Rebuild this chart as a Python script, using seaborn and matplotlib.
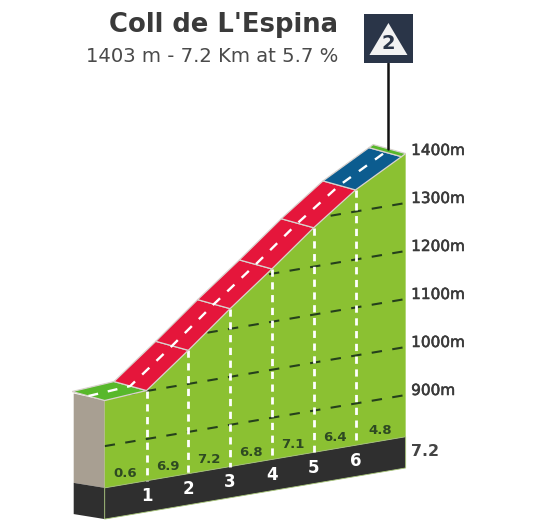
import numpy as np
import matplotlib
matplotlib.use("Agg")
import matplotlib.pyplot as plt
import matplotlib.patheffects as pe
from matplotlib.patches import Polygon
import seaborn as sns

TITLE = "Coll de L'Espina"
SUBTITLE = "1403 m - 7.2 Km at 5.7 %"
CATEGORY = "2"

# profile
road_km = [0, 1, 2, 3, 4, 5, 6, 7.1, 7.2]
road_alt = [995, 1001, 1070, 1142, 1210, 1281, 1345, 1398, 1403]
road_colors = ["#58B82B", "#E5163B", "#E5163B", "#E5163B", "#E5163B", "#E5163B",
               "#0C5C8F", "#58B82B"]
gradient_km = [0.5, 1.5, 2.5, 3.5, 4.5, 5.5, 6.6]
gradients = ["0.6", "6.9", "7.2", "6.8", "7.1", "6.4", "4.8"]
km_marks = [1, 2, 3, 4, 5, 6]
grid_alt = [900, 1000, 1100, 1200, 1300]
label_alt = [900, 1000, 1100, 1200, 1300, 1400]
total_km = 7.2
base_alt = 813
foot_alt = 748


def proj(km, alt, depth=0.0):
    """Oblique projection of (km, altitude, road depth) on the canvas."""
    km, alt = np.asarray(km, float), np.asarray(alt, float)
    x = 104.7 + 41.8 * km - 32.5 * depth
    y = 395 + 7.1 * (total_km - km) - 0.48 * (alt - 900) - 9.0 * depth
    return x, y


def pts(kms, alts, depth=0.0):
    return np.column_stack(proj(kms, alts, depth))


def alt_at(km):
    return np.interp(km, road_km, road_alt)


sns.set_theme(style="white")
fig, ax = plt.subplots(figsize=(5.33, 5.24), dpi=100)
ax.set_position([0, 0, 1, 1])
ax.set_xlim(0, 533)
ax.set_ylim(524, 0)
ax.axis("off")

FONT = "DejaVu Sans"
GREEN = "#8BC132"
DARK = "#2F2F2F"

# left side wall and foot
k0, a0 = road_km[0], road_alt[0]
wall = np.vstack([pts(k0, a0), pts(k0, base_alt), pts(k0, base_alt) + [-31, -5], pts(k0, a0) + [-31, -7]])
ax.add_patch(Polygon(wall, fc="#A89F92", ec="none", zorder=1))
foot = np.vstack([pts(k0, base_alt), pts(k0, foot_alt), pts(k0, foot_alt) + [-31, -5], pts(k0, base_alt) + [-31, -5]])
ax.add_patch(Polygon(foot, fc=DARK, ec="none", zorder=1))

# green front face
terrain = np.vstack([pts(road_km, road_alt), pts(total_km, base_alt), pts(k0, base_alt)])
face = Polygon(terrain, fc=GREEN, ec="none", zorder=2)
ax.add_patch(face)

# dark distance band
band = np.vstack([pts(k0, base_alt), pts(total_km, base_alt), pts(total_km, foot_alt), pts(k0, foot_alt)])
ax.add_patch(Polygon(band, fc=DARK, ec="#A9C77A", lw=0.6, zorder=3))

# altitude lines, clipped by the terrain
for alt in grid_alt:
    xs, ys = proj([0, total_km], [alt, alt])
    sns.lineplot(x=xs, y=ys, ax=ax, color="#25401C", lw=1.5, estimator=None, sort=False,
                 zorder=4, legend=False)
    line = ax.lines[-1]
    line.set_linestyle((0, (5, 5)))
    line.set_clip_path(face)

# white km lines
for km in km_marks:
    xs, ys = proj([km, km], [alt_at(km), base_alt])
    sns.lineplot(x=xs, y=ys, ax=ax, color="white", lw=2, estimator=None, sort=False,
                 zorder=5, legend=False)
    ax.lines[-1].set_linestyle((0, (2.6, 2.0)))

# road surface
for i, col in enumerate(road_colors):
    k = road_km[i:i + 2]
    a = road_alt[i:i + 2]
    poly = np.vstack([pts(k, a), pts(k[::-1], a[::-1], 1.0)])
    ax.add_patch(Polygon(poly, fc=col, ec="#D9D2CE", lw=0.9, zorder=6))

# centre line of the road
xs, ys = proj(road_km, road_alt, 0.5)
sns.lineplot(x=xs, y=ys, ax=ax, color="white", lw=1.7, estimator=None, sort=False,
             zorder=7, legend=False)
ax.lines[-1].set_linestyle((0, (4.2, 4.2)))

# gradient values and km numbers
for km, g in zip(gradient_km, gradients):
    x, y = proj(km, base_alt)
    ax.text(x.item(), y.item() - 11, g, ha="center", va="center", fontsize=9.5, fontweight="bold",
            color="#2E4A22", family=FONT, zorder=8)
for km in km_marks:
    x, y = proj(km, (base_alt + foot_alt) / 2)
    ax.text(x.item(), y.item(), str(km), ha="center", va="center", fontsize=12, fontweight="bold",
            color="white", family=FONT, zorder=8)

# right side labels
for alt in label_alt:
    x, y = proj(total_km, alt)
    t = ax.text(x.item() + 5.5, y.item() - 4.5, f"{alt}m", ha="left", va="center", fontsize=11,
                color="#3A3A3A", family=FONT, zorder=8)
    t.set_path_effects([pe.withStroke(linewidth=0.4, foreground="#3A3A3A")])
x, y = proj(total_km, base_alt)
ax.text(x.item() + 5.5, y.item() + 15, f"{total_km}", ha="left", va="center", fontsize=11.4, fontweight="bold",
        color="#444444", family=FONT, zorder=8)

# titles
ax.text(338, 32, TITLE, ha="right", va="baseline", fontsize=18.6, fontweight="bold",
        color="#3A3A3A", family=FONT)
ax.text(338, 62, SUBTITLE, ha="right", va="baseline", fontsize=14.1, color="#4A4A4A", family=FONT)

# summit flag
sx, sy = proj(total_km, road_alt[-1], 0.53)
sx, sy = sx.item(), sy.item()
ax.plot([sx, sx], [63, sy], color="#111111", lw=1.8, zorder=9)
ax.add_patch(Polygon([(sx - 24.5, 14), (sx + 24.5, 14), (sx + 24.5, 63), (sx - 24.5, 63)],
                     fc="#2A3548", ec="none", zorder=9))
ax.add_patch(Polygon([(sx, 23), (sx + 19, 55), (sx - 19, 55)], fc="#F2F2F2", ec="none", zorder=10))
ax.text(sx, 43.5, CATEGORY, ha="center", va="center", fontsize=14, fontweight="bold",
        color="#2A3548", family=FONT, zorder=11)

fig.savefig("out.png", dpi=100, facecolor="white")
